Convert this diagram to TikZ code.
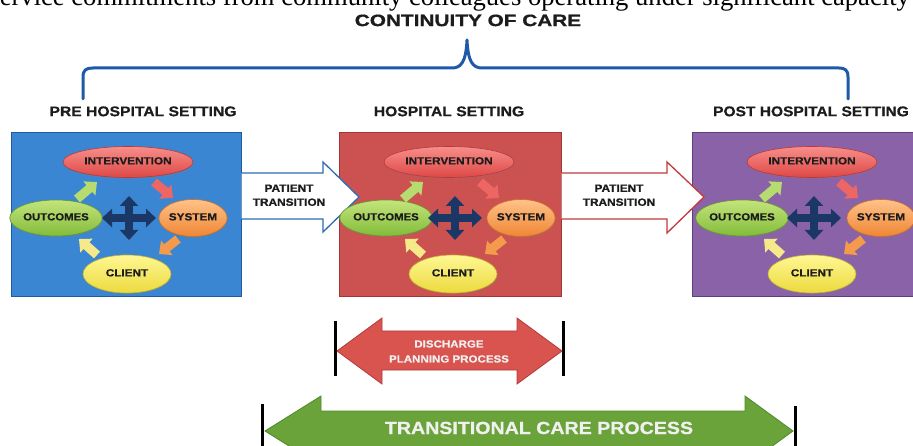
\documentclass[tikz,border=0pt]{standalone}
\usepackage{fontspec}
\setmainfont{Liberation Sans}[BoldFeatures={FakeBold=0.7}]
\newfontfamily\bodyserif{Liberation Serif}
\usepackage{graphicx}
\usetikzlibrary{calc,shapes.geometric,arrows.meta,shadows}

\definecolor{inkdark}{HTML}{1C1C1C}
\definecolor{braceblue}{HTML}{1F5AA8}
\definecolor{preblue}{HTML}{3A86D2}
\definecolor{prebluedk}{HTML}{1E5C9E}
\definecolor{hospred}{HTML}{CB5250}
\definecolor{hospreddk}{HTML}{A23634}
\definecolor{postpurple}{HTML}{8A62A8}
\definecolor{postpurpledk}{HTML}{5E3F7E}
\definecolor{navy}{HTML}{1B3766}
\definecolor{intTop}{HTML}{F78E8A}
\definecolor{intBot}{HTML}{DE4846}
\definecolor{intEdge}{HTML}{B8383A}
\definecolor{outTop}{HTML}{C4E47C}
\definecolor{outBot}{HTML}{82BC3A}
\definecolor{outEdge}{HTML}{66992C}
\definecolor{sysTop}{HTML}{FFC28A}
\definecolor{sysBot}{HTML}{EF8634}
\definecolor{sysEdge}{HTML}{CC6E26}
\definecolor{cliTop}{HTML}{FFF794}
\definecolor{cliBot}{HTML}{ECDA3C}
\definecolor{cliEdge}{HTML}{C4B42E}
\definecolor{arGreen}{HTML}{B6DC70}
\definecolor{arRed}{HTML}{EE6664}
\definecolor{arOrange}{HTML}{F39A4C}
\definecolor{arYellow}{HTML}{F6E98A}
\definecolor{transblue}{HTML}{2E6DB4}
\definecolor{transred}{HTML}{C23A3C}
\definecolor{dischfill}{HTML}{D9534F}
\definecolor{dischedge}{HTML}{B23B3A}
\definecolor{tcpfill}{HTML}{6BA33B}
\definecolor{tcpedge}{HTML}{4E8A2C}

% horizontally widened bold caption, one or more centred lines
\newcommand\wtext[2]{\scalebox{#1}[1]{\begin{tabular}{@{}c@{}}#2\end{tabular}}}

% contents of one care-setting panel:
% #1 prefix, #2 intervention x, #3 outcomes x, #4 system x, #5 client x
\newcommand\panelcontent[5]{%
  \node[ell, minimum width=130pt, minimum height=31pt, top color=intTop, bottom color=intBot, draw=intEdge]
    (#1int) at (#2,162) {\wtext{1.14}{INTERVENTION}};
  \node[ell, minimum width=82pt, minimum height=36pt, top color=outTop, bottom color=outBot, draw=outEdge]
    (#1out) at (#3,218) {\wtext{1.1}{OUTCOMES}};
  \node[ell, minimum width=64pt, minimum height=37pt, top color=sysTop, bottom color=sysBot, draw=sysEdge]
    (#1sys) at (#4,218) {\wtext{1.14}{SYSTEM}};
  \node[ell, minimum width=88pt, minimum height=38pt, top color=cliTop, bottom color=cliBot, draw=cliEdge]
    (#1cli) at (#5,274) {\wtext{1.14}{CLIENT}};
  \coordinate (#1x) at ($(#5,218)+(2,0)$);
  % four-way arrow in the middle
  \draw[crossarm] ($(#1x)+(-27,0)$) -- ($(#1x)+(27,0)$);
  \draw[crossarm] ($(#1x)+(0,-22)$) -- ($(#1x)+(0,22)$);
  % cycle arrows between the four ellipses
  \draw[cyc, draw=arGreen]  ($(#1x)+(-52,-19)$) -- ($(#1x)+(-32,-36)$);
  \draw[cyc, draw=arRed]    ($(#1x)+(25,-36)$)  -- ($(#1x)+(44,-20)$);
  \draw[cyc, draw=arOrange] ($(#1x)+(49,21)$)   -- ($(#1x)+(30,36)$);
  \draw[cyc, draw=arYellow] ($(#1x)+(-32,37)$)  -- ($(#1x)+(-50,21)$);
}

\begin{document}
\begin{tikzpicture}[x=1pt,y=-1pt,
  panelbox/.style={rectangle, inner sep=0pt, minimum height=164pt, line width=1pt},
  hdr/.style={font=\fontsize{14}{16}\selectfont\bfseries, text=inkdark, inner sep=0pt},
  ell/.style={ellipse, inner sep=0pt, line width=0.6pt,
    font=\fontsize{10.3}{12}\selectfont\bfseries, text=inkdark,
    drop shadow={opacity=0.25, shadow xshift=0.8pt, shadow yshift=-1.5pt}},
  crossarm/.style={draw=navy, line width=7.5pt,
    {Triangle[width=18pt,length=10pt]}-{Triangle[width=18pt,length=10pt]}},
  cyc/.style={line width=9pt, -{Triangle[width=18pt,length=10pt]}},
  transarrow/.style={fill=white, line width=1.3pt, line join=miter},
  ptlabel/.style={font=\fontsize{10.5}{14}\selectfont\bfseries, text=inkdark, inner sep=0pt},
  bar/.style={line width=3pt, draw=black},
  brace/.style={draw=braceblue, line width=3pt, line cap=round, line join=round}]

\useasboundingbox (0,0) rectangle (913,446);
\fill[white] (0,0) rectangle (913,446);
\clip (0,0) rectangle (913,446);

% running text line above the figure
\node[anchor=base east, inner sep=0pt, font=\bodyserif\fontsize{26.6}{28}\selectfont, text=black]
  (lead) at (910,5.5) {service commitments from community colleagues operating under significant capacity};

% title and brace
\node[inner sep=0pt, font=\fontsize{16.5}{18}\selectfont\bfseries, text=inkdark]
  (title) at (468,22.5) {\wtext{1.26}{CONTINUITY OF CARE}};
\draw[brace] (83,99) -- (83,77) .. controls (83,70) and (86,68) .. (93,68)
  -- (452,68) .. controls (461,68) and (466,62) .. (467,40)
  .. controls (468,62) and (473,68) .. (482,68)
  -- (839,68) .. controls (845,68) and (848,70) .. (848,77) -- (848,99);

% setting headings
\node[hdr] (prehdr)  at (143,113) {\wtext{1.12}{PRE HOSPITAL SETTING}};
\node[hdr] (hosphdr) at (449,113) {\wtext{1.12}{HOSPITAL SETTING}};
\node[hdr] (posthdr) at (811,113) {\wtext{1.11}{POST HOSPITAL SETTING}};

% setting panels
\node[panelbox, minimum width=230pt, fill=preblue, draw=prebluedk] (prebox) at (126,215) {};
\node[panelbox, minimum width=222pt, fill=hospred, draw=hospreddk] (hospbox) at (450,215) {};
\node[panelbox, minimum width=224pt, fill=postpurple, draw=postpurpledk] (postbox) at (804,215) {};

% patient transition arrows
\filldraw[transarrow, draw=transblue]
  (prebox.east |- 0,173) -- (323,173) -- (323,162) -- (359,197) -- (323,232) -- (323,219) -- (prebox.east |- 0,219);
\node[ptlabel] (pt1) at (289,196) {\wtext{1.13}{PATIENT\\TRANSITION}};
\filldraw[transarrow, draw=transred]
  (hospbox.east |- 0,173) -- (667,173) -- (667,162) -- (704,197) -- (667,233) -- (667,219) -- (hospbox.east |- 0,219);
\node[ptlabel] (pt2) at (619,196) {\wtext{1.13}{PATIENT\\TRANSITION}};

\panelcontent{pre}{128}{56}{193}{127}
\panelcontent{hosp}{449}{386}{521}{453}
\panelcontent{post}{812}{742}{881}{812}

% discharge planning span
\coordinate (dl) at (335,321);
\coordinate (dr) at (563,321);
\draw[bar] (dl) -- ++(0,55);
\draw[bar] (dr) -- ++(0,55);
\filldraw[fill=dischfill, draw=dischedge, line width=0.8pt, line join=miter]
  (337,351) -- (382,318) -- (382,331) -- (517,331) -- (517,318) -- (562,351)
  -- (517,384) -- (517,370) -- (382,370) -- (382,384) -- cycle;
\node[inner sep=0pt, font=\fontsize{10.3}{15}\selectfont\bfseries, text=white!94!black]
  (dpp) at (449,352) {\wtext{1.12}{DISCHARGE\\PLANNING PROCESS}};

% transitional care span
\coordinate (tl) at (262,404);
\coordinate (tr) at (795,406);
\draw[bar] (tl) -- ++(0,50);
\draw[bar] (tr) -- ++(0,50);
\filldraw[fill=tcpfill, draw=tcpedge, line width=0.8pt, line join=miter]
  (265,431) -- (321,396) -- (321,411) -- (745,411) -- (745,396) -- (793,431)
  -- (745,466) -- (745,451) -- (321,451) -- (321,466) -- cycle;
\node[inner sep=0pt, font=\fontsize{17.5}{20}\selectfont\bfseries, text=white!94!black]
  (tcp) at (539,430) {\wtext{1.12}{TRANSITIONAL CARE PROCESS}};

\end{tikzpicture}
\end{document}
